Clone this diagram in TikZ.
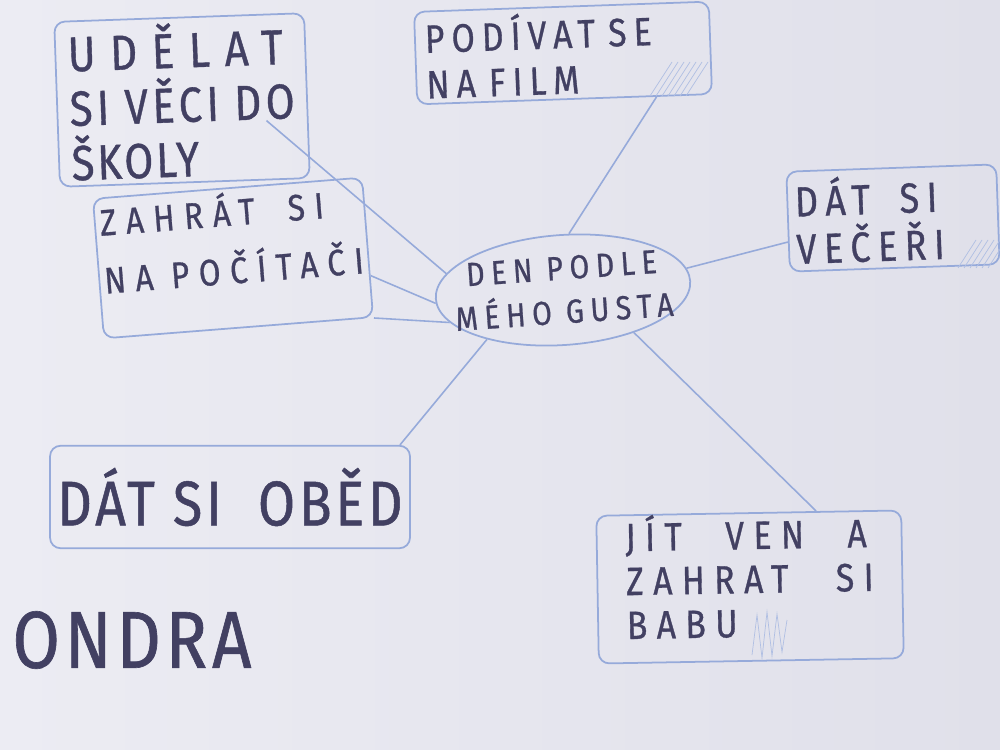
\documentclass[tikz,border=0pt]{standalone}
\usepackage{fontspec}
\usetikzlibrary{calc,shapes.geometric}
\newfontfamily\hand[FakeStretch=0.85,FakeBold=0.8,LetterSpace=6]{Fira Sans}
\newcommand{\ls}[1]{\addfontfeatures{LetterSpace=#1}}
\newcommand{\gp}[1]{\hspace{#1em}}
\definecolor{paperA}{RGB}{236,236,243}
\definecolor{paperB}{RGB}{224,224,234}
\definecolor{ink}{RGB}{66,64,98}
\definecolor{pen}{RGB}{150,170,218}
\begin{document}
\begin{tikzpicture}[x=0.02cm,y=-0.02cm,
  box/.style={draw=pen,line width=1pt,rounded corners=6pt,inner sep=0pt,text=ink,align=left},
  link/.style={draw=pen,line width=0.9pt},
  hatch/.style={draw=pen!75,line width=0.4pt}]
\useasboundingbox (0,0) rectangle (1000,750);
\shade[left color=paperA,right color=paperB] (0,0) rectangle (1000,750);

% boxes
\node[box,minimum width=5.0cm,minimum height=3.3cm,rotate=2,
  font=\hand\fontsize{28}{31}\selectfont] (udelat) at (182,100)
  {{\ls{30}UDĚLAT}\\{\ls{9}SI VĚCI DO}\\ŠKOLY};
\node[box,minimum width=5.4cm,minimum height=2.8cm,rotate=4.5,
  font=\hand\ls{26}\fontsize{21}{33}\selectfont] (zahrat) at (233,258)
  {ZAHRÁT\gp{0.9}SI\\NA POČÍTAČI\\[-0.35cm]~};
\node[box,minimum width=5.9cm,minimum height=1.85cm,text width=5.5cm,rotate=2,
  font=\hand\ls{18}\fontsize{22.5}{26}\selectfont] (podivat) at (563,53)
  {PODÍVAT SE\\NA FILM};
\node[box,minimum width=4.2cm,minimum height=2.0cm,text width=3.9cm,rotate=2,
  font=\hand\ls{18}\fontsize{24}{27}\selectfont] (vecere) at (893,218)
  {DÁT\gp{0.7}SI\\VEČEŘI};
\node[box,minimum width=7.2cm,minimum height=2.05cm,align=center,
  font=\hand\fontsize{36}{40}\selectfont] (obed) at (230,497)
  {DÁT SI \ OBĚD};
\node[box,minimum width=6.1cm,minimum height=2.95cm,rotate=1,
  font=\hand\ls{24}\fontsize{22.5}{25}\selectfont] (jit) at (750,587)
  {JÍT\gp{1.1}VEN\gp{1.1}A\\ZAHRAT\gp{1.2}SI\\BABU\\[-0.4cm]~};
\node[ellipse,draw=pen,line width=1pt,minimum width=5.1cm,minimum height=2.2cm,
  inner xsep=-0.45cm,inner ysep=-0.2cm,rotate=4,text=ink,align=center,
  font=\hand\ls{20}\fontsize{19}{25}\selectfont] (center) at (563,290)
  {DEN PODLE\\MÉHO GUSTA};
\node[text=ink,font=\hand\fontsize{46}{50}\selectfont,inner sep=0pt] (ondra) at (132,640) {ONDRA};

% connectors
\draw[link] ($(udelat.south east)!0.35!(udelat.north east)+(-24pt,0)$) -- (center.168);
\draw[link] ($(podivat.south west)!0.81!(podivat.south east)$) -- (center.80);
\draw[link] ($(vecere.west)!0.4!(vecere.south west)$) -- (center.6);
\draw[link] ($(zahrat.east)!0.4!(zahrat.south east)$) -- (center.182);
\draw[link] (zahrat.south east) -- (center.192);
\draw[link] (center.209) -- ($(obed.north west)!0.97!(obed.north east)$);
\draw[link] (center.325) -- ($(jit.north west)!0.72!(jit.north east)$);

% faint pencil hatching
\foreach \i in {0,...,6} \draw[hatch] (650+6*\i,96) -- (672+6*\i,62);
\foreach \i in {0,...,5} \draw[hatch] (958+6*\i,268) -- (976+6*\i,240);
\draw[hatch] (752,655) -- (757,615) -- (762,658) -- (767,612) -- (772,656) -- (777,614) -- (782,652) -- (787,620);
\end{tikzpicture}
\end{document}
